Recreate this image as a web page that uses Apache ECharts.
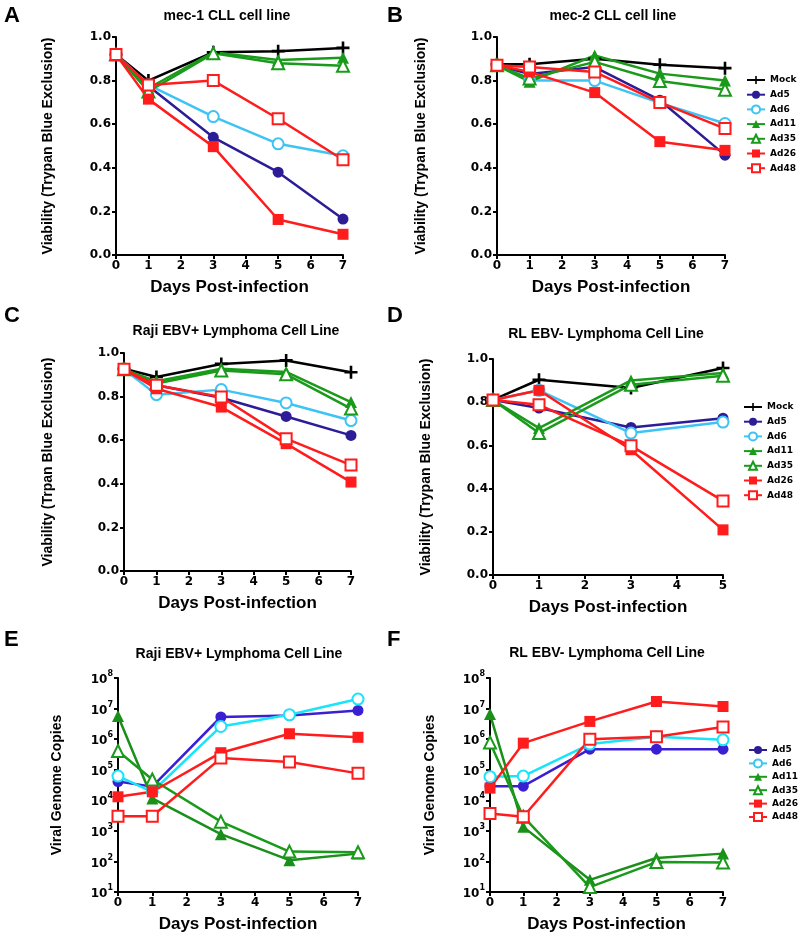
<!DOCTYPE html>
<html>
<head>
<meta charset="utf-8">
<script src="https://cdn.jsdelivr.net/npm/echarts@6/dist/echarts.min.js"></script>
<style>
html,body{margin:0;padding:0;background:#fff;}
#chart{width:800px;height:940px;}
</style>
</head>
<body>
<div id="chart"></div>
<script>
// ---------- data ----------
const days7 = [0, 1, 3, 5, 7];
const days5 = [0, 1, 3, 5];
const xTicks7 = ['0', '1', '2', '3', '4', '5', '6', '7'];
const yTicksLin = ['0.0', '0.2', '0.4', '0.6', '0.8', '1.0'];
const logExponents = [1, 2, 3, 4, 5, 6, 7, 8];

// Panel A: mec-1 CLL cell line (viability)
const A_Mock = [0.92, 0.80, 0.93, 0.935, 0.95];
const A_Ad5  = [0.92, 0.775, 0.54, 0.38, 0.165];
const A_Ad6  = [0.92, 0.78, 0.635, 0.51, 0.455];
const A_Ad11 = [0.92, 0.765, 0.93, 0.895, 0.905];
const A_Ad35 = [0.92, 0.75, 0.925, 0.88, 0.868];
const A_Ad26 = [0.92, 0.715, 0.497, 0.163, 0.095];
const A_Ad48 = [0.92, 0.78, 0.80, 0.625, 0.437];

// Panel B: mec-2 CLL cell line (viability)
const B_Mock = [0.875, 0.875, 0.90, 0.873, 0.857];
const B_Ad5  = [0.87, 0.83, 0.862, 0.71, 0.458];
const B_Ad6  = [0.87, 0.80, 0.80, 0.698, 0.603];
const B_Ad11 = [0.87, 0.795, 0.915, 0.832, 0.80];
const B_Ad35 = [0.87, 0.81, 0.886, 0.798, 0.758];
const B_Ad26 = [0.87, 0.84, 0.745, 0.52, 0.48];
const B_Ad48 = [0.87, 0.862, 0.84, 0.70, 0.58];

// Panel C: Raji EBV+ Lymphoma Cell Line (viability)
const C_Mock = [0.928, 0.89, 0.95, 0.966, 0.912];
const C_Ad5  = [0.925, 0.852, 0.795, 0.709, 0.622];
const C_Ad6  = [0.925, 0.809, 0.832, 0.771, 0.69];
const C_Ad11 = [0.925, 0.87, 0.928, 0.913, 0.775];
const C_Ad35 = [0.925, 0.86, 0.92, 0.902, 0.745];
const C_Ad26 = [0.925, 0.836, 0.752, 0.584, 0.408];
const C_Ad48 = [0.925, 0.852, 0.798, 0.607, 0.486];

// Panel D: RL EBV- Lymphoma Cell Line (viability)
const D_Mock = [0.811, 0.904, 0.866, 0.958];
const D_Ad5  = [0.81, 0.773, 0.683, 0.726];
const D_Ad6  = [0.81, 0.855, 0.657, 0.708];
const D_Ad11 = [0.81, 0.68, 0.901, 0.935];
const D_Ad35 = [0.81, 0.657, 0.881, 0.923];
const D_Ad26 = [0.81, 0.855, 0.58, 0.209];
const D_Ad48 = [0.81, 0.788, 0.598, 0.343];

// Panel E: Raji EBV+ (viral genome copies)
const E_Ad5  = [4.1e4, 2.8e4, 5.3e6, 5.9e6, 8.7e6];
const E_Ad6  = [6.2e4, 1.9e4, 2.6e6, 6.3e6, 2.05e7];
const E_Ad11 = [5.7e6, 1.15e4, 780, 110, 180];
const E_Ad35 = [4.1e5, 4.8e4, 2000, 210, 200];
const E_Ad26 = [1.3e4, 1.9e4, 3.6e5, 1.5e6, 1.15e6];
const E_Ad48 = [3000, 3000, 2.4e5, 1.8e5, 7.6e4];

// Panel F: RL EBV- (viral genome copies)
const F_Ad5  = [2.9e4, 2.9e4, 4.7e5, 4.7e5, 4.7e5];
const F_Ad6  = [5.9e4, 6.2e4, 6.9e5, 1.2e6, 9.5e5];
const F_Ad11 = [6.6e6, 1350, 25, 130, 180];
const F_Ad35 = [7.8e5, 2900, 14.5, 95, 92];
const F_Ad26 = [2.5e4, 7.4e5, 3.8e6, 1.7e7, 1.17e7];
const F_Ad48 = [3700, 2900, 1.0e6, 1.2e6, 2.5e6];

const seriesNames = ['Mock', 'Ad5', 'Ad6', 'Ad11', 'Ad35', 'Ad26', 'Ad48'];
const panelTitles = ['mec-1 CLL cell line', 'mec-2 CLL cell line', 'Raji EBV+ Lymphoma Cell Line',
  'RL EBV- Lymphoma Cell Line', 'Raji EBV+ Lymphoma Cell Line', 'RL EBV- Lymphoma Cell Line'];
const panelLetters = ['A', 'B', 'C', 'D', 'E', 'F'];
const yTitles = ['Viability (Trypan Blue Exclusion)', 'Viability (Trypan Blue Exclusion)',
  'Viability (Trpan Blue Exclusion)', 'Viability (Trypan Blue Exclusion)',
  'Viral Genome Copies', 'Viral Genome Copies'];
const xTitle = 'Days Post-infection';

// ---------- styling ----------
const colViab = {Mock:'#000000', Ad5:'#2c1c96', Ad6:'#3ec4f4', Ad11:'#1a9a1a', Ad35:'#1a9a1a', Ad26:'#ff1c1c', Ad48:'#ff1c1c'};
const colCopies = {Mock:'#000000', Ad5:'#3a20d2', Ad6:'#18e4fa', Ad11:'#1a8f1a', Ad35:'#1a9a1a', Ad26:'#ff1c1c', Ad48:'#ff1c1c'};
const plusPath = 'path://M4,0H6V4H10V6H6V10H4V6H0V4H4Z';
const symInfo = {
  Mock: {symbol: plusPath, size: 13, open: false},
  Ad5:  {symbol: 'circle', size: 11, open: false},
  Ad6:  {symbol: 'circle', size: 11, open: true},
  Ad11: {symbol: 'triangle', size: 12, open: false},
  Ad35: {symbol: 'triangle', size: 12, open: true},
  Ad26: {symbol: 'rect', size: 11, open: false},
  Ad48: {symbol: 'rect', size: 11, open: true}
};

const grids = [
  {left: 116, top: 37, width: 227, height: 218},
  {left: 497, top: 37, width: 228, height: 218},
  {left: 124, top: 353, width: 227, height: 218},
  {left: 493, top: 359, width: 230, height: 216},
  {left: 118, top: 678, width: 240, height: 214},
  {left: 490, top: 678, width: 233, height: 214}
];
const yNameGaps = [61, 69, 69, 60, 54, 53];

const tickFont = {fontFamily: 'DejaVu Sans', fontWeight: 'bold', fontSize: 12, color: '#000'};
const axisLine = {show: true, onZero: false, lineStyle: {color: '#000', width: 2}};
const axisTick = {show: true, length: 4, lineStyle: {color: '#000', width: 2}};

const panels = [
  {xs: days7, xmax: 7, log: false, data: {Mock:A_Mock, Ad5:A_Ad5, Ad6:A_Ad6, Ad11:A_Ad11, Ad35:A_Ad35, Ad26:A_Ad26, Ad48:A_Ad48}},
  {xs: days7, xmax: 7, log: false, data: {Mock:B_Mock, Ad5:B_Ad5, Ad6:B_Ad6, Ad11:B_Ad11, Ad35:B_Ad35, Ad26:B_Ad26, Ad48:B_Ad48}},
  {xs: days7, xmax: 7, log: false, data: {Mock:C_Mock, Ad5:C_Ad5, Ad6:C_Ad6, Ad11:C_Ad11, Ad35:C_Ad35, Ad26:C_Ad26, Ad48:C_Ad48}},
  {xs: days5, xmax: 5, log: false, data: {Mock:D_Mock, Ad5:D_Ad5, Ad6:D_Ad6, Ad11:D_Ad11, Ad35:D_Ad35, Ad26:D_Ad26, Ad48:D_Ad48}},
  {xs: days7, xmax: 7, log: true, data: {Ad5:E_Ad5, Ad6:E_Ad6, Ad11:E_Ad11, Ad35:E_Ad35, Ad26:E_Ad26, Ad48:E_Ad48}},
  {xs: days7, xmax: 7, log: true, data: {Ad5:F_Ad5, Ad6:F_Ad6, Ad11:F_Ad11, Ad35:F_Ad35, Ad26:F_Ad26, Ad48:F_Ad48}}
];

const xAxes = [], yAxes = [], series = [];
panels.forEach((p, gi) => {
  xAxes.push({
    gridIndex: gi, type: 'value', min: 0, max: p.xmax, interval: 1,
    axisLine: axisLine, axisTick: axisTick, splitLine: {show: false},
    axisLabel: Object.assign({margin: 5, formatter: v => xTicks7[v]}, tickFont),
    name: xTitle, nameLocation: 'middle', nameGap: 24,
    nameTextStyle: {fontFamily: 'Liberation Sans', fontWeight: 'bold', fontSize: 17, color: '#000'}
  });
  const ya = {
    gridIndex: gi, axisLine: axisLine, axisTick: axisTick, splitLine: {show: false},
    name: yTitles[gi], nameLocation: 'middle', nameGap: yNameGaps[gi], nameRotate: 90,
    nameTextStyle: {fontFamily: 'Liberation Sans', fontWeight: 'bold', fontSize: 14, color: '#000'}
  };
  if (p.log) {
    Object.assign(ya, {
      type: 'log', logBase: 10, min: 10, max: 1e8, splitNumber: 7,
      axisLabel: {
        margin: 5,
        formatter: v => '{b|10}{s|' + logExponents[Math.round(Math.log10(v)) - 1] + '}',
        rich: {
          b: {fontFamily: 'DejaVu Sans', fontWeight: 'bold', fontSize: 12, color: '#000', lineHeight: 16, verticalAlign: 'bottom'},
          s: {fontFamily: 'DejaVu Sans', fontWeight: 'bold', fontSize: 8, color: '#000', lineHeight: 16, verticalAlign: 'top'}
        }
      }
    });
  } else {
    Object.assign(ya, {
      type: 'value', min: 0, max: 1, interval: 0.2,
      axisLabel: Object.assign({margin: 5, formatter: v => yTicksLin[Math.round(v * 5)]}, tickFont)
    });
  }
  yAxes.push(ya);
  const pal = p.log ? colCopies : colViab;
  Object.keys(p.data).forEach(name => {
    const si = symInfo[name];
    const c = pal[name];
    series.push({
      type: 'line', name: name, xAxisIndex: gi, yAxisIndex: gi,
      data: p.xs.map((x, i) => [x, p.data[name][i]]),
      symbol: si.symbol, symbolSize: si.size, showAllSymbol: true,
      lineStyle: {color: c, width: 2.5},
      itemStyle: si.open ? {color: '#ffffff', borderColor: c, borderWidth: 2} : {color: c, borderColor: c, borderWidth: 0},
      emphasis: {disabled: true}
    });
  });
});

const legendText = {fontFamily: 'DejaVu Sans', fontWeight: 'bold', fontSize: 9, color: '#000', lineHeight: 10};
const legends = [
  {left: 746, top: 75, data: seriesNames, itemGap: 4.7},
  {left: 743, top: 402, data: seriesNames, itemGap: 4.7},
  {left: 748, top: 745, data: seriesNames.slice(1), itemGap: 3.4}
].map(l => Object.assign({orient: 'vertical', itemWidth: 18, itemHeight: 10, padding: 0,
  textStyle: legendText, selectedMode: false}, l));

const graphics = [];
const titlePos = [[227, 16], [613, 16], [236, 331], [606, 334], [239, 654], [607, 653]];
const letterPos = [[4, 16], [387, 16], [4, 316], [387, 316], [4, 640], [387, 640]];
titlePos.forEach((pt, i) => {
  graphics.push({type: 'text', x: pt[0], y: pt[1], silent: true,
    style: {text: panelTitles[i], font: 'bold 14px "Liberation Sans"', fill: '#000', textAlign: 'center', textVerticalAlign: 'middle'}});
});
letterPos.forEach((pt, i) => {
  graphics.push({type: 'text', x: pt[0], y: pt[1], silent: true,
    style: {text: panelLetters[i], font: 'bold 22px "Liberation Sans"', fill: '#000', textAlign: 'left', textVerticalAlign: 'middle'}});
});

const chart = echarts.init(document.getElementById('chart'), null, {renderer: 'canvas'});
chart.setOption({
  animation: false,
  backgroundColor: '#ffffff',
  grid: grids,
  xAxis: xAxes,
  yAxis: yAxes,
  legend: legends,
  graphic: graphics,
  series: series
});
</script>
</body>
</html>
